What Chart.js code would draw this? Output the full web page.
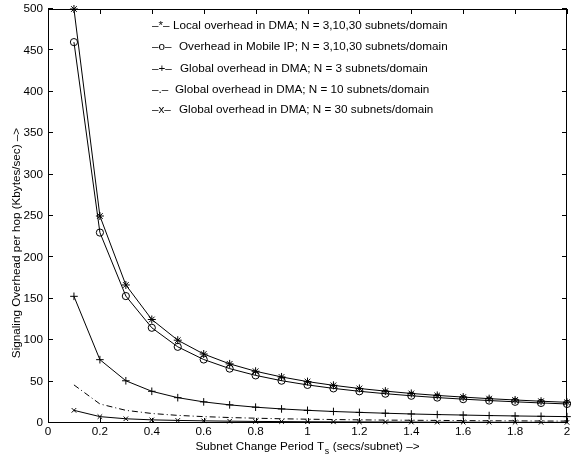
<!DOCTYPE html>
<html><head><meta charset="utf-8">
<script src="https://cdn.jsdelivr.net/npm/chart.js@4.4.1/dist/chart.umd.min.js"></script>
<style>html,body{margin:0;padding:0;background:#fff;}#wrap{width:572px;height:456px;}</style>
</head><body><div id="wrap"><canvas id="c" width="572" height="456"></canvas></div>
<script>
// ---- data ----
const periods = [0.1,0.2,0.3,0.4,0.5,0.6,0.7,0.8,0.9,1.0,1.1,1.2,1.3,1.4,1.5,1.6,1.7,1.8,1.9,2.0];
const localDMA = [500,250,166.7,125,100,83.3,71.4,62.5,55.6,50,45.5,41.7,38.5,35.7,33.3,31.3,29.4,27.8,26.3,25];
const mobileIP = [460,230,153.3,115,92,76.7,65.7,57.5,51.1,46,41.8,38.3,35.4,32.9,30.7,28.8,27.1,25.6,24.2,23];
const globalN3 = [153,76.5,51,38.3,30.6,25.5,21.9,19.1,17,15.3,13.9,12.8,11.8,10.9,10.2,9.6,9,8.5,8.1,7.7];
const globalN10 = [46,23,15.3,11.5,9.2,7.7,6.6,5.8,5.1,4.6,4.2,3.8,3.5,3.3,3.1,2.9,2.7,2.6,2.4,2.3];
const globalN30 = [15.3,7.7,5.1,3.8,3.1,2.6,2.2,1.9,1.7,1.5,1.4,1.3,1.2,1.1,1.0,1.0,0.9,0.85,0.8,0.77];
const seriesNames = [
  'Local overhead in DMA; N = 3,10,30 subnets/domain',
  'Overhead in Mobile IP; N = 3,10,30 subnets/domain',
  'Global overhead in DMA; N = 3 subnets/domain',
  'Global overhead in DMA; N = 10 subnets/domain',
  'Global overhead in DMA; N = 30 subnets/domain'
];
const legendMarks = ['\u2013*\u2013','\u2013o\u2013','\u2013+\u2013','\u2013.\u2013','\u2013x\u2013'];
const xTickValues = [0,0.2,0.4,0.6,0.8,1,1.2,1.4,1.6,1.8,2];
const yTickValues = [0,50,100,150,200,250,300,350,400,450,500];
const xTitleMain = 'Subnet Change Period T';
const xTitleSub = 's';
const xTitleRest = ' (secs/subnet) \u2013>';
const yTitle = 'Signaling Overhead per hop (Kbytes/sec) \u2013>';

// ---- layout / style ----
const FONT = '"Liberation Sans", Arial, Helvetica, sans-serif';
const FS = 11.7;
const legendPos = {markX:152, textX:[173,179,180,175,179], y:[26,46.7,69,90,110]};

function pts(vals){ return periods.map((p,i)=>({x:p,y:vals[i]})); }
function ds(vals, style, radius, dash){
  return {data: pts(vals), borderColor:'#000', borderWidth:1, backgroundColor:'rgba(0,0,0,0)',
    pointStyle: style || false, pointRadius: style ? radius : 0, pointBorderColor:'#000',
    pointBackgroundColor:'rgba(0,0,0,0)', pointBorderWidth:1, borderDash: dash || [], tension:0, clip:false};
}

const framePlugin = {
  id:'frame',
  afterDraw(chart){
    const ctx = chart.ctx, a = chart.chartArea, xs = chart.scales.x, ys = chart.scales.y;
    ctx.save();
    ctx.strokeStyle = '#000'; ctx.lineWidth = 1;
    ctx.strokeRect(Math.round(a.left)+0.5, Math.round(a.top)+0.5, Math.round(a.right-a.left)-1, Math.round(a.bottom-a.top)-1);
    const L = 5;
    ctx.beginPath();
    xTickValues.forEach(v=>{
      const px = Math.round(xs.getPixelForValue(v))+0.5;
      ctx.moveTo(px, a.bottom); ctx.lineTo(px, a.bottom-L);
      ctx.moveTo(px, a.top); ctx.lineTo(px, a.top+L);
    });
    yTickValues.forEach(v=>{
      const py = Math.round(ys.getPixelForValue(v))-0.5;
      ctx.moveTo(a.left, py); ctx.lineTo(a.left+L, py);
      ctx.moveTo(a.right, py); ctx.lineTo(a.right-L, py);
    });
    ctx.stroke();
    // legend text
    ctx.fillStyle = '#000';
    ctx.font = FS + 'px ' + FONT;
    ctx.textBaseline = 'middle'; ctx.textAlign = 'left';
    seriesNames.forEach((n,i)=>{
      ctx.fillText(legendMarks[i], legendPos.markX, legendPos.y[i]);
      ctx.fillText(n, legendPos.textX[i], legendPos.y[i]);
    });
    // x title with subscript
    const w1 = ctx.measureText(xTitleMain).width;
    ctx.font = (FS*0.75) + 'px ' + FONT;
    const w2 = ctx.measureText(xTitleSub).width;
    ctx.font = FS + 'px ' + FONT;
    const w3 = ctx.measureText(xTitleRest).width;
    const total = w1 + w2 + w3;
    let x0 = 307 - total/2;
    const ty = 447;
    ctx.fillText(xTitleMain, x0, ty);
    ctx.font = (FS*0.75) + 'px ' + FONT;
    ctx.fillText(xTitleSub, x0 + w1 + 0.5, ty + 5);
    ctx.font = FS + 'px ' + FONT;
    ctx.fillText(xTitleRest, x0 + w1 + w2 + 1, ty);
    // y title
    ctx.save();
    ctx.translate(17, 243);
    ctx.rotate(-Math.PI/2);
    ctx.textAlign = 'center';
    ctx.fillText(yTitle, 0, 0);
    ctx.restore();
    ctx.restore();
  }
};

new Chart(document.getElementById('c'), {
  type:'line',
  data:{ datasets:[
    ds(localDMA,'star',4),
    ds(mobileIP,'circle',3.6),
    ds(globalN3,'cross',3.8),
    ds(globalN10,null,0,[6,3,1,3]),
    ds(globalN30,'crossRot',3.2)
  ]},
  options:{
    responsive:false, animation:false, devicePixelRatio:1,
    layout:{padding:{top:9,right:2,left:0,bottom:0}},
    plugins:{legend:{display:false}, tooltip:{enabled:false}, title:{display:false}},
    scales:{
      x:{type:'linear', min:0, max:2,
        afterBuildTicks:s=>{ s.ticks = xTickValues.map(v=>({value:v})); },
        ticks:{color:'#000', font:{family:FONT, size:FS}, padding:2, maxRotation:0, autoSkip:false,
          callback:v=>String(+(+v).toFixed(1))},
        grid:{display:false, drawTicks:false}, border:{display:false},
        afterFit:s=>{ s.height = 33; s.paddingLeft = 0; s.paddingRight = 0; }
      },
      y:{type:'linear', min:0, max:500,
        afterBuildTicks:s=>{ s.ticks = yTickValues.map(v=>({value:v})); },
        ticks:{color:'#000', font:{family:FONT, size:FS}, padding:5, autoSkip:false},
        grid:{display:false, drawTicks:false}, border:{display:false},
        afterFit:s=>{ s.width = 48; s.paddingTop = 0; s.paddingBottom = 0; }
      }
    }
  },
  plugins:[framePlugin]
});
</script></body></html>
